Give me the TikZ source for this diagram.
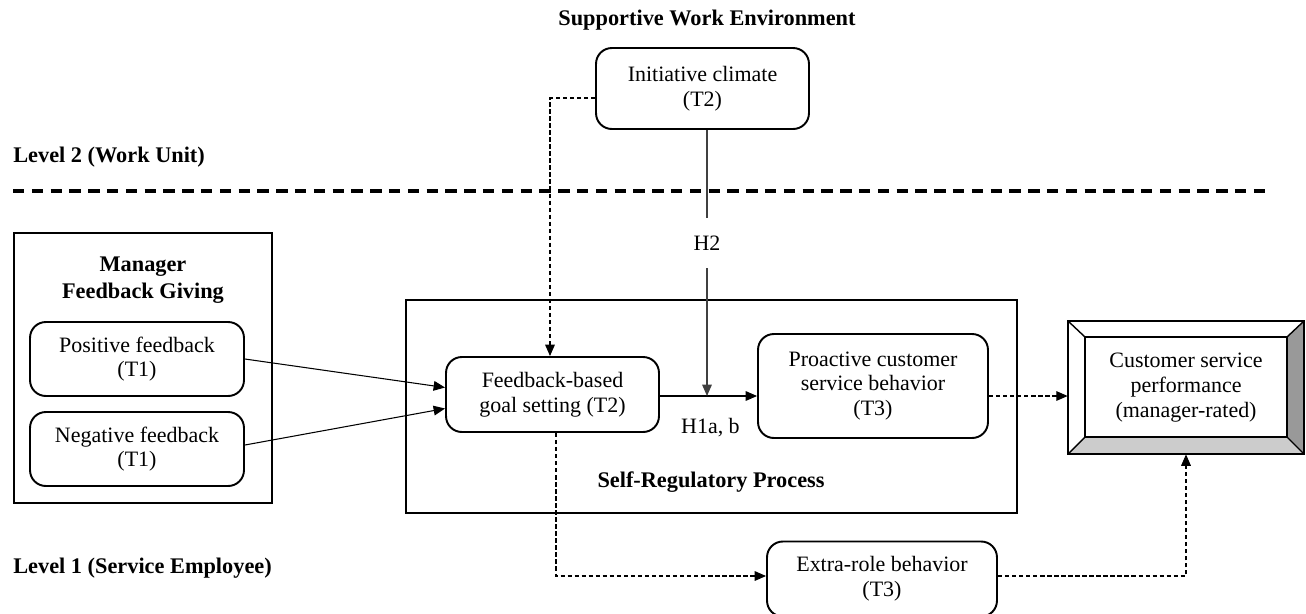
\documentclass[tikz,border=0pt]{standalone}
\usepackage{fontspec}
\setmainfont{Liberation Serif}
\usetikzlibrary{arrows.meta}

\tikzset{
    var/.style={draw, line width=1.1pt, rounded corners=9pt, align=center, inner sep=2pt},
    frame/.style={draw, line width=1.1pt},
    head/.style={font=\fontsize{12.7}{15}\selectfont\bfseries, align=center},
    arr/.style={-{Triangle[length=6.5pt,width=5.5pt]}, line width=0.6pt},
    darr/.style={-{Triangle[length=6.5pt,width=5.5pt]}, line width=0.6pt, dash pattern=on 2.5pt off 1.5pt},
}

\begin{document}
\begin{tikzpicture}[x=0.02cm, y=-0.02cm, font=\fontsize{12.5}{14}\selectfont]
    \useasboundingbox (0,0) rectangle (1306,613);

    % Levels %
    \node[head, anchor=west, inner sep=0pt] (lvltwo) at (13,157) {Level 2 (Work Unit)};
    \node[head, anchor=west, inner sep=0pt] (lvlone) at (13,568) {Level 1 (Service Employee)};
    \draw[line width=1.8pt, dash pattern=on 6.5pt off 4.2pt] (13,191) -- (1266,191);

    % Frames %
    \node[frame, minimum width=5.16cm, minimum height=5.4cm] (mgr) at (143,368) {};
    \node[frame, minimum width=12.22cm, minimum height=4.26cm] (self) at (711.5,406.5) {};
    \node[head] at (143,280) {Manager\\Feedback Giving};
    \node[head] at (711,482) {Self-Regulatory Process};
    \node[head] at (707,20) {Supportive Work Environment};

    % Variables %
    \node[var, minimum width=4.26cm, minimum height=1.62cm] (init) at (702.5,88.5) {Initiative climate\\(T2)};
    \node[var, minimum width=4.28cm, minimum height=1.48cm] (pos) at (137,359) {Positive feedback\\(T1)};
    \node[var, minimum width=4.28cm, minimum height=1.48cm] (neg) at (137,449) {Negative feedback\\(T1)};
    \node[var, minimum width=4.26cm, minimum height=1.5cm] (goal) at (552.5,394.5) {Feedback-based\\goal setting (T2)};
    \node[var, minimum width=4.6cm, minimum height=2.08cm] (pro) at (873,386) {Proactive customer\\service behavior\\(T3)};
    \node[var, minimum width=4.6cm, minimum height=1.5cm] (extra) at (882,579) {Extra-role behavior\\(T3)};

    % Outcome (bevelled box) %
    \fill[black!20] (1085,437) -- (1287,437) -- (1304,454) -- (1068,454) -- cycle;
    \fill[black!40] (1287,337) -- (1304,321) -- (1304,454) -- (1287,437) -- cycle;
    \draw[line width=1.1pt] (1068,321) rectangle (1304,454);
    \draw[line width=1.1pt] (1085,337) rectangle (1287,437);
    \draw[line width=0.8pt] (1068,321) -- (1085,337) (1304,321) -- (1287,337)
        (1068,454) -- (1085,437) (1304,454) -- (1287,437);
    \node[align=center, minimum width=4.72cm, minimum height=2.66cm] (perf) at (1186,387.5) {Customer service\\performance\\(manager-rated)};

    % Paths %
    \draw[arr] (pos.east) -- ([yshift=0.14cm]goal.west);
    \draw[arr] (neg.east |- 0,445) -- ([yshift=-0.28cm]goal.west);
    \coordinate (hmod) at (707,396);
    \draw[arr] (goal.east |- hmod) -- (pro.west |- hmod) node[pos=0.52, below=9pt] (hone) {H1a, b};
    \draw[arr, black!75] (init.south -| hmod) -- (hmod);
    \node[fill=white, minimum height=1cm, inner sep=3pt] (htwo) at (707,243) {H2};
    \draw[darr] ([yshift=-0.19cm]init.west) -| ([xshift=-0.05cm]goal.north);
    \draw[darr] (pro.east |- hmod) -- (perf.west |- hmod);
    \draw[darr] ([xshift=0.07cm]goal.south) |- (extra.west |- 0,576);
    \draw[darr] (extra.east |- 0,576) -| (perf.south);
\end{tikzpicture}
\end{document}
